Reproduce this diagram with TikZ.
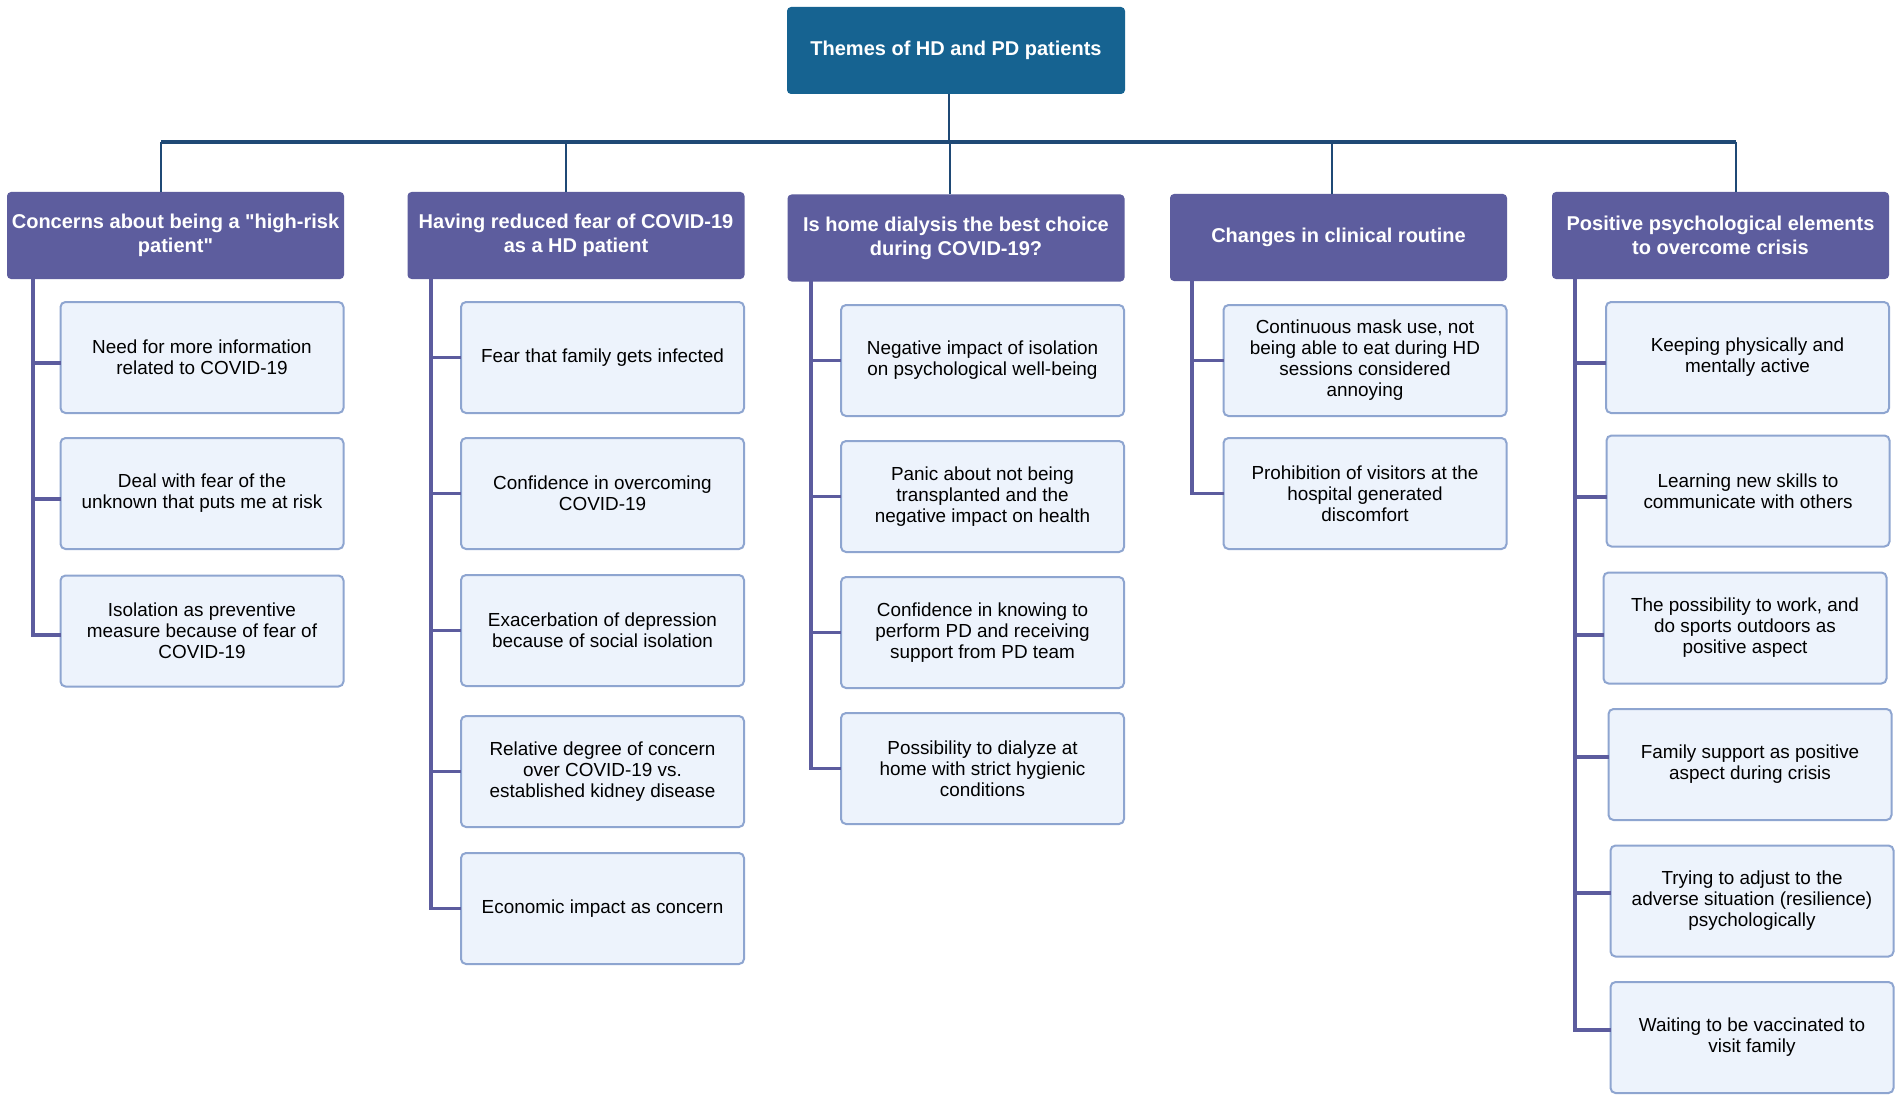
\documentclass[tikz,border=0pt]{standalone}
\usepackage{fontspec}
\setmainfont{Liberation Sans}[Ligatures=TeXOff]
\usetikzlibrary{calc}
\definecolor{rootfill}{RGB}{22,99,145}
\definecolor{hdrfill}{RGB}{93,93,158}
\definecolor{childfill}{RGB}{237,243,252}
\definecolor{childedge}{RGB}{142,165,208}
\definecolor{navy}{RGB}{31,73,117}
\definecolor{purpleline}{RGB}{92,92,158}
\tikzset{
  rootbox/.style={fill=rootfill, rounded corners=4pt, minimum width=338pt, minimum height=87pt,
    inner sep=0pt, outer sep=0pt, align=center, text=white, font=\fontsize{20}{24}\selectfont\bfseries},
  hdrbox/.style={fill=hdrfill, rounded corners=4pt, minimum width=337pt, minimum height=87pt,
    inner sep=0pt, outer sep=0pt, align=center, text=white, font=\fontsize{20}{24}\selectfont\bfseries},
  childbox/.style={fill=childfill, draw=childedge, line width=2pt, rounded corners=5pt,
    minimum width=283pt, minimum height=111pt, inner sep=0pt, outer sep=0pt, align=center,
    text=black, font=\fontsize{18.9}{21}\selectfont},
  barline/.style={draw=navy, line width=3.5pt},
  dropline/.style={draw=navy, line width=2.7pt},
  colline/.style={draw=purpleline, line width=3.5pt}
}
\begin{document}
\begin{tikzpicture}[x=1pt,y=-1pt]
\useasboundingbox (0,0) rectangle (1902,1102);
\fill[white] (0,0) rectangle (1902,1102);
% root
\node[rootbox] (root) at (956,50.5) {Themes of HD and PD patients};
% headers
\node[hdrbox] (h1) at (175.5,235.5) {Concerns about being a "high-risk\\patient"};
\node[hdrbox] (h2) at (576,235.5) {Having reduced fear of COVID-19\\as a HD patient};
\node[hdrbox] (h3) at (956,238) {Is home dialysis the best choice\\during COVID-19?};
\node[hdrbox] (h4) at (1338.5,237.5) {Changes in clinical routine};
\node[hdrbox] (h5) at (1720.5,235.5) {Positive psychological elements\\to overcome crisis};
% column 1
\node[childbox] (c11) at (202,357.5) {Need for more information\\related to COVID-19};
\node[childbox] (c12) at (202,493.5) {Deal with fear of the\\unknown that puts me at risk};
\node[childbox] (c13) at (202,631) {Isolation as preventive\\measure because of fear of\\COVID-19};
% column 2
\node[childbox] (c21) at (602.5,357.5) {Fear that family gets infected};
\node[childbox] (c22) at (602.5,493.5) {Confidence in overcoming\\COVID-19};
\node[childbox] (c23) at (602.5,630.5) {Exacerbation of depression\\because of social isolation};
\node[childbox] (c24) at (602.5,771.5) {Relative degree of concern\\over COVID-19 vs.\\established kidney disease};
\node[childbox] (c25) at (602.5,908.5) {Economic impact as concern};
% column 3
\node[childbox] (c31) at (982.5,360.5) {Negative impact of isolation\\on psychological well-being};
\node[childbox] (c32) at (982.5,496.5) {Panic about not being\\transplanted and the\\negative impact on health};
\node[childbox] (c33) at (982.5,632.5) {Confidence in knowing to\\perform PD and receiving\\support from PD team};
\node[childbox] (c34) at (982.5,768.5) {Possibility to dialyze at\\home with strict hygienic\\conditions};
% column 4
\node[childbox] (c41) at (1365,360.5) {Continuous mask use, not\\being able to eat during HD\\sessions considered\\annoying};
\node[childbox] (c42) at (1365,493.5) {Prohibition of visitors at the\\hospital generated\\discomfort};
% column 5
\node[childbox] (c51) at (1747.5,357.5) {Keeping physically and\\mentally active};
\node[childbox] (c52) at (1748,491) {Learning new skills to\\communicate with others};
\node[childbox] (c53) at (1745,628) {The possibility to work, and\\do sports outdoors as\\positive aspect};
\node[childbox] (c54) at (1750,764.5) {Family support as positive\\aspect during crisis};
\node[childbox] (c55) at (1752,901) {Trying to adjust to the\\adverse situation (resilience)\\psychologically};
\node[childbox] (c56) at (1752,1037.5) {Waiting to be vaccinated to\\visit family};
% top connectors
\coordinate (bar) at (949,142);
\coordinate (d1) at (161,142);
\coordinate (d2) at (566,142);
\coordinate (d3) at (950,142);
\coordinate (d4) at (1332,142);
\coordinate (d5) at (1736,142);
\draw[dropline] (root.south -| bar) -- (bar);
\draw[dropline] (d1) -- (d1 |- h1.north);
\draw[dropline] (d2) -- (d2 |- h2.north);
\draw[dropline] (d3) -- (d3 |- h3.north);
\draw[dropline] (d4) -- (d4 |- h4.north);
\draw[dropline] (d5) -- (d5 |- h5.north);
\draw[barline] (d1) -- (d5);
% column lines
\coordinate (t1) at (33,279);
\coordinate (t2) at (431,279);
\coordinate (t3) at (811,281);
\coordinate (t4) at (1192,281);
\coordinate (t5) at (1575,279);
\coordinate (s11) at ($(c11.west)+(0,5.5)$);
\coordinate (s12) at ($(c12.west)+(0,5.5)$);
\coordinate (s13) at ($(c13.west)+(0,4)$);
\coordinate (s51) at ($(c51.west)+(0,5.5)$);
\coordinate (s52) at ($(c52.west)+(0,6)$);
\coordinate (s53) at ($(c53.west)+(0,7)$);
\coordinate (s54) at ($(c54.west)+(0,-7.5)$);
\coordinate (s55) at ($(c55.west)+(0,-8)$);
\coordinate (s56) at ($(c56.west)+(0,-7.5)$);
\draw[colline] (t1) |- (s13);
\draw[colline] (s11 -| t1) -- (s11);
\draw[colline] (s12 -| t1) -- (s12);
\draw[colline] (t2) |- (c25.west);
\foreach \c in {c21,c22,c23,c24} \draw[colline] (\c.west -| t2) -- (\c.west);
\draw[colline] (t3) |- (c34.west);
\foreach \c in {c31,c32,c33} \draw[colline] (\c.west -| t3) -- (\c.west);
\draw[colline] (t4) |- (c42.west);
\draw[colline] (c41.west -| t4) -- (c41.west);
\draw[colline] (t5) |- (s56);
\foreach \c in {s51,s52,s53,s54,s55} \draw[colline] (\c -| t5) -- (\c);
\end{tikzpicture}
\end{document}
